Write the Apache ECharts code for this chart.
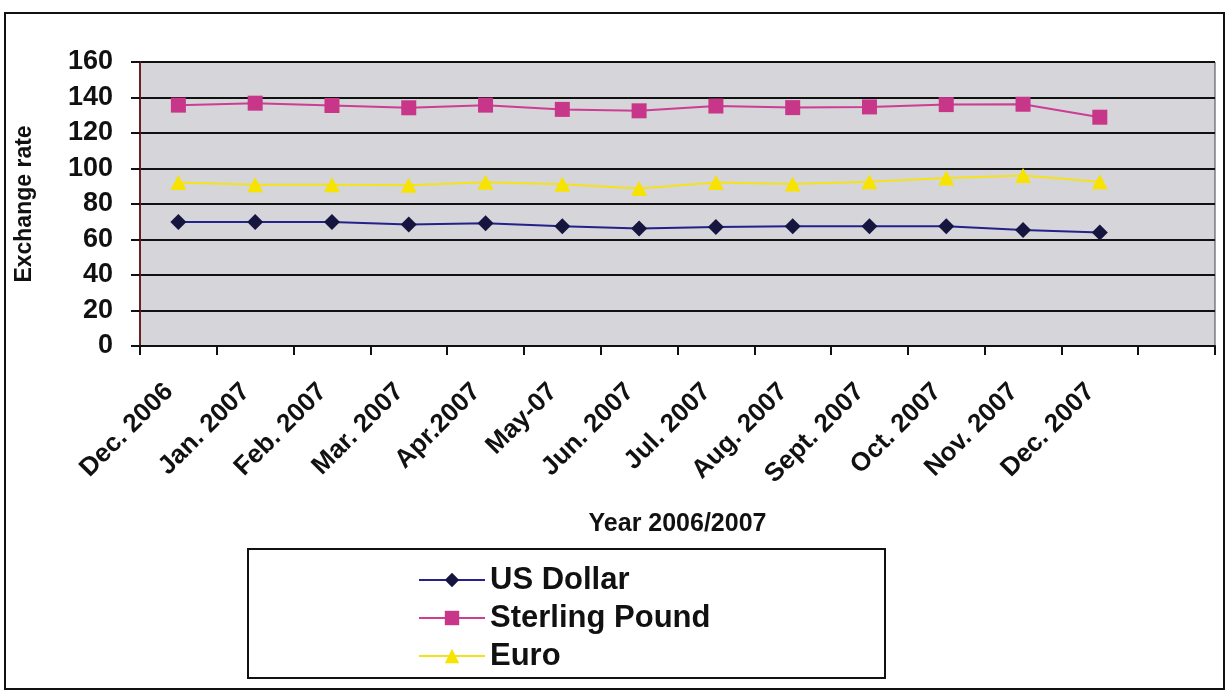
<!DOCTYPE html>
<html>
<head>
<meta charset="utf-8">
<script src="https://cdn.jsdelivr.net/npm/echarts@6/dist/echarts.min.js"></script>
<style>
html,body{margin:0;padding:0;background:#fff;}
#chart{width:1229px;height:695px;}
</style>
</head>
<body>
<div id="chart"></div>
<script>
const categories = ['Dec. 2006','Jan. 2007','Feb. 2007','Mar. 2007','Apr.2007','May-07','Jun. 2007','Jul. 2007','Aug. 2007','Sept. 2007','Oct. 2007','Nov. 2007','Dec. 2007',''];
const usDollar = [69.8, 69.8, 69.8, 68.5, 69.1, 67.5, 66.2, 67.0, 67.4, 67.5, 67.5, 65.3, 64.0];
const sterlingPound = [135.7, 136.8, 135.5, 134.2, 135.7, 133.3, 132.5, 135.2, 134.3, 134.7, 136.0, 136.2, 128.9];
const euro = [92.1, 90.9, 90.8, 90.6, 92.3, 91.1, 88.7, 92.1, 91.3, 92.5, 94.7, 96.0, 92.6];
const yTicks = {min: 0, max: 160, interval: 20};

const FONT = '"Liberation Sans", Arial, sans-serif';
const chart = echarts.init(document.getElementById('chart'), null, {renderer: 'canvas'});
chart.setOption({
  animation: false,
  backgroundColor: '#ffffff',
  textStyle: {fontFamily: FONT},
  grid: {
    left: 140, right: 14, top: 62, bottom: 349,
    show: true, backgroundColor: '#d6d5d9', borderColor: '#444', borderWidth: 1
  },
  graphic: [
    {type: 'rect', shape: {x: 5, y: 13, width: 1219, height: 676}, style: {fill: 'none', stroke: '#111', lineWidth: 2}, z: -1},
    {type: 'rect', shape: {x: 248, y: 549, width: 637, height: 129}, style: {fill: '#fff', stroke: '#111', lineWidth: 2}, z: 0}
  ],
  legend: {
    orient: 'vertical',
    left: 413, top: 559,
    itemWidth: 66, itemHeight: 18, itemGap: 6,
    textStyle: {fontFamily: FONT, fontSize: 31, fontWeight: 'bold', color: '#111', lineHeight: 32},
    z: 5
  },
  xAxis: {
    type: 'category',
    data: categories,
    boundaryGap: true,
    name: 'Year 2006/2007',
    nameLocation: 'middle',
    nameGap: 166,
    nameTextStyle: {fontFamily: FONT, fontSize: 25, fontWeight: 'bold', color: '#111'},
    axisLine: {lineStyle: {color: '#111', width: 2}},
    axisTick: {show: true, interval: 0, length: 9, lineStyle: {color: '#111', width: 2}},
    axisLabel: {interval: 0, rotate: 45, margin: 51, verticalAlign: 'bottom', align: 'right',
      fontFamily: FONT, fontSize: 26, fontWeight: 'bold', color: '#111'},
    splitLine: {show: false}
  },
  yAxis: {
    type: 'value',
    min: yTicks.min, max: yTicks.max, interval: yTicks.interval,
    name: 'Exchange rate',
    nameLocation: 'middle',
    nameGap: 104,
    nameTextStyle: {fontFamily: FONT, fontSize: 23, fontWeight: 'bold', color: '#111'},
    axisLine: {show: true, lineStyle: {color: '#6a2020', width: 2}},
    axisTick: {show: true, length: 9, lineStyle: {color: '#111', width: 2}},
    axisLabel: {margin: 27, fontFamily: FONT, fontSize: 27, fontWeight: 'bold', color: '#111'},
    splitLine: {show: true, lineStyle: {color: '#111', width: 2}}
  },
  series: [
    {
      name: 'US Dollar', type: 'line', data: usDollar,
      symbol: 'diamond', symbolSize: 16,
      lineStyle: {color: '#22228a', width: 2},
      itemStyle: {color: '#15153f', borderWidth: 0}
    },
    {
      name: 'Sterling Pound', type: 'line', data: sterlingPound,
      symbol: 'rect', symbolSize: 15,
      lineStyle: {color: '#cc3d94', width: 2},
      itemStyle: {color: '#c8368a', borderWidth: 0}
    },
    {
      name: 'Euro', type: 'line', data: euro,
      symbol: 'triangle', symbolSize: [16, 15],
      lineStyle: {color: '#f5e21a', width: 2},
      itemStyle: {color: '#f7e300', borderWidth: 0}
    }
  ]
});
</script>
</body>
</html>
